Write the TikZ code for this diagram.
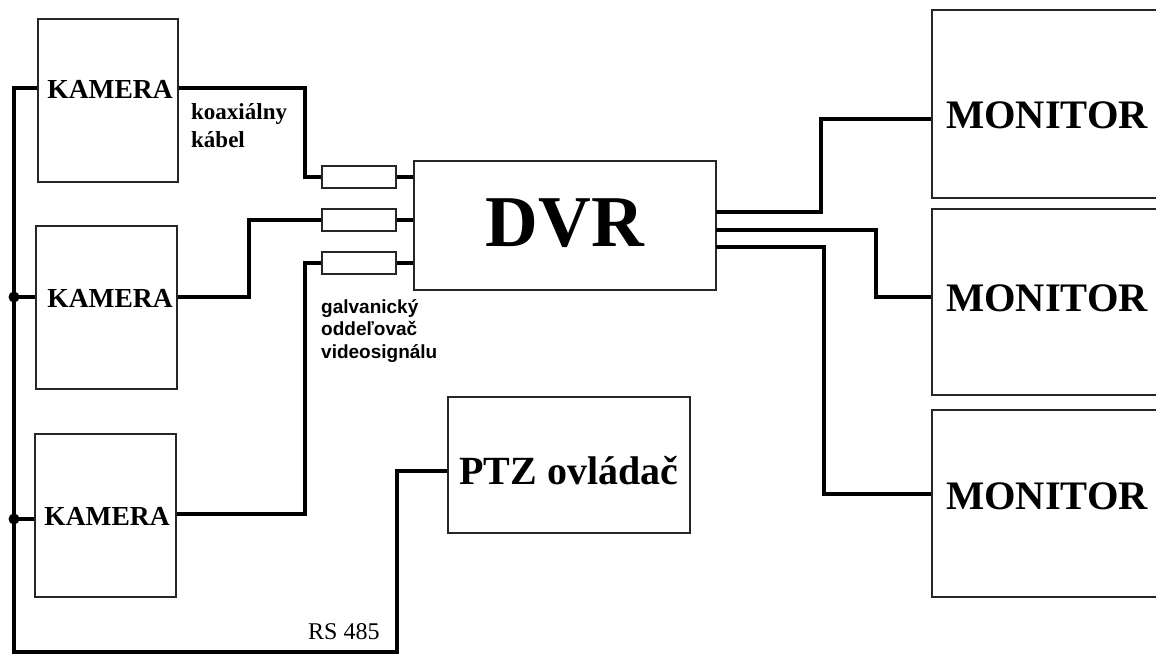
\documentclass[tikz,border=0pt]{standalone}
\usepackage{fontspec}
\setmainfont{Liberation Serif}
\newfontfamily\labsans{Liberation Sans}
\begin{document}
\begin{tikzpicture}[x=1pt,y=-1pt,
  box/.style={draw=black!85,line width=2pt,fill=white,inner sep=0pt},
  iso/.style={box,minimum width=74pt,minimum height=22pt},
  cable/.style={draw=black,line width=3.4pt},
  lbl/.style={inner sep=0pt,font=\bfseries},
  dotn/.style={circle,fill=black,inner sep=0pt,minimum size=11pt}]
\clip (0,0) rectangle (1156,653);
\fill[white] (0,0) rectangle (1156,653);
% cameras
\node[box,minimum width=140pt,minimum height=163pt] (cam1) at (108,100.5) {};
\node[box,minimum width=141pt,minimum height=163pt] (cam2) at (106.5,307.5) {};
\node[box,minimum width=141pt,minimum height=163pt] (cam3) at (105.5,515.5) {};
\node[lbl,font=\fontsize{27.5}{30}\selectfont\bfseries] (cam1t) at (110,89) {KAMERA};
\node[lbl,font=\fontsize{27.5}{30}\selectfont\bfseries] (cam2t) at (110,298) {KAMERA};
\node[lbl,font=\fontsize{27.5}{30}\selectfont\bfseries] (cam3t) at (107,516) {KAMERA};
% isolators
\node[iso] (iso1) at (359,177) {};
\node[iso] (iso2) at (359,220) {};
\node[iso] (iso3) at (359,263) {};
% DVR
\node[box,minimum width=302pt,minimum height=129pt] (dvr) at (565,225.5) {};
\node[lbl,font=\fontsize{73}{80}\selectfont\bfseries] (dvrt) at (565,223) {DVR};
% PTZ
\node[box,minimum width=242pt,minimum height=136pt] (ptz) at (569,465) {};
\node[lbl,font=\fontsize{40}{44}\selectfont\bfseries] (ptzt) at (569,471) {PTZ ovládač};
% monitors
\node[box,minimum width=238pt,minimum height=188pt] (mon1) at (1051,104) {};
\node[box,minimum width=238pt,minimum height=186pt] (mon2) at (1051,302) {};
\node[box,minimum width=238pt,minimum height=187pt] (mon3) at (1051,503.5) {};
\node[lbl,font=\fontsize{40.5}{44}\selectfont\bfseries] (mon1t) at (1047,115) {MONITOR};
\node[lbl,font=\fontsize{40.5}{44}\selectfont\bfseries] (mon2t) at (1047,298) {MONITOR};
\node[lbl,font=\fontsize{40.5}{44}\selectfont\bfseries] (mon3t) at (1047,496) {MONITOR};
% coordinates
\coordinate (b1) at (14,88);
\coordinate (b2) at (14,297);
\coordinate (b3) at (14,519);
\coordinate (bb) at (14,652);
\coordinate (rs) at (397,652);
\coordinate (c1) at (305,88);
\coordinate (c2) at (249,297);
\coordinate (c3) at (305,514);
\coordinate (o1) at (716,212);
\coordinate (o2) at (716,230);
\coordinate (o3) at (716,247);
% camera cables
\draw[cable] (cam1.east |- c1) -- (c1) |- (iso1.west);
\draw[cable] (cam2.east |- c2) -- (c2) |- (iso2.west);
\draw[cable] (cam3.east |- c3) -- (c3) |- (iso3.west);
\draw[cable] (iso1.east) -- (dvr.west |- iso1);
\draw[cable] (iso2.east) -- (dvr.west |- iso2);
\draw[cable] (iso3.east) -- (dvr.west |- iso3);
% monitor cables
\draw[cable] (o1) -- (821,212) -- (821,119) -- (mon1.west |- 0,119);
\draw[cable] (o2) -- (876,230) -- (876,297) -- (mon2.west |- 0,297);
\draw[cable] (o3) -- (824,247) -- (824,494) -- (mon3.west |- 0,494);
% RS485 bus
\draw[cable] (cam1.west |- b1) -- (b1) -- (bb) -- (rs) -- (397,471) -- (ptz.west |- 0,471);
\draw[cable] (b2) -- (cam2.west |- b2);
\draw[cable] (b3) -- (cam3.west |- b3);
\node[dotn] (d2) at (b2) {};
\node[dotn] (d3) at (b3) {};
% labels
\node[inner sep=0pt,anchor=north west,align=left,font=\fontsize{23}{28}\selectfont\bfseries] (koax) at (191,103) {koaxiálny\\kábel};
\node[inner sep=0pt,anchor=north west,align=left,font=\labsans\fontsize{19}{22.5}\selectfont\bfseries] (galv) at (321,299) {galvanický\\oddeľovač\\videosignálu};
\node[inner sep=0pt,anchor=base west,font=\fontsize{24}{28}\selectfont] (rst) at (308,639) {RS 485};
\end{tikzpicture}
\end{document}
